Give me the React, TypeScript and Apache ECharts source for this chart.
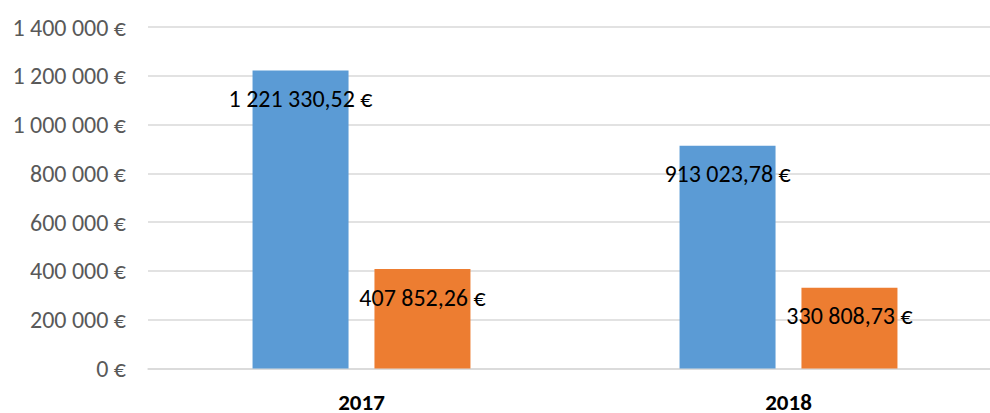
import React, { useEffect, useRef } from "react";
import * as echarts from "echarts";

const categories = ["2017", "2018"];
const seriesA = [1221330.52, 913023.78];
const seriesB = [407852.26, 330808.73];
const yTicks = [0, 200000, 400000, 600000, 800000, 1000000, 1200000, 1400000];

function fmtInt(v: number): string {
  return String(Math.round(v)).replace(/\B(?=(\d{3})+(?!\d))/g, " ") + " €";
}
function fmtDec(v: number): string {
  const [i, d] = v.toFixed(2).split(".");
  return i.replace(/\B(?=(\d{3})+(?!\d))/g, " ") + "," + d + " €";
}

export default function App() {
  const ref = useRef<HTMLDivElement>(null);
  useEffect(() => {
    if (!ref.current) return;
    const chart = echarts.init(ref.current, undefined, { renderer: "svg" });
    const font = "Carlito, 'Open Sans', sans-serif";
    const label = {
      show: true,
      position: "insideTop" as const,
      distance: 16,
      color: "#000",
      fontSize: 24,
      lineHeight: 24,
      fontFamily: font,
      formatter: (p: any) => fmtDec(p.value),
    };
    chart.setOption({
      animation: false,
      grid: { left: 148, width: 854, top: 27, bottom: 41, containLabel: false },
      xAxis: {
        type: "category",
        data: categories,
        axisLine: { show: true, lineStyle: { color: "#d9d9d9", width: 1.5 } },
        axisTick: { show: false },
        axisLabel: { color: "#000", fontWeight: "bold", fontSize: 23, fontFamily: font, margin: 26, lineHeight: 14 },
      },
      yAxis: {
        type: "value",
        min: yTicks[0],
        max: yTicks[yTicks.length - 1],
        interval: yTicks[1] - yTicks[0],
        axisLine: { show: false },
        axisTick: { show: false },
        splitLine: { lineStyle: { color: "#d9d9d9", width: 1.5 } },
        axisLabel: { color: "#595959", fontSize: 24, fontFamily: font, margin: 22, formatter: fmtInt },
      },
      series: [
        { type: "bar", data: seriesA, barWidth: 96, barGap: "27%", itemStyle: { color: "#5B9BD5" }, label },
        { type: "bar", data: seriesB, barWidth: 96, barGap: "27%", itemStyle: { color: "#ED7D31" }, label },
      ],
    });
    return () => chart.dispose();
  }, []);
  return (
    <div style={{ position: "fixed", left: 0, top: 0, width: 990, height: 413, overflow: "hidden", background: "#fff" }}>
      <div ref={ref} style={{ width: 1010, height: 413 }} />
    </div>
  );
}
